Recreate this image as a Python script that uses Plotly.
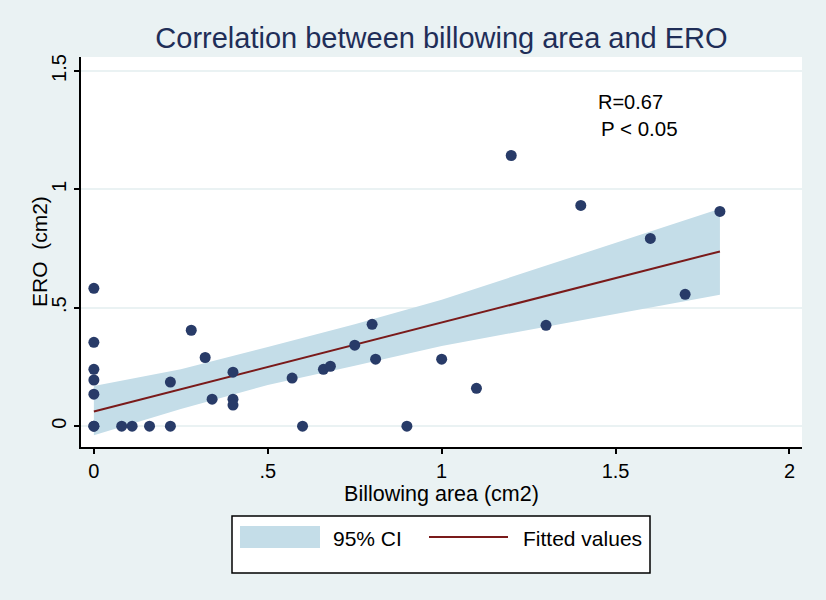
import plotly.graph_objects as go

# ---- data ----
billow = [0, 0, 0, 0, 0, 0, 0, 0.08, 0.11, 0.16, 0.22, 0.22, 0.28, 0.32, 0.34,
          0.40, 0.40, 0.40, 0.57, 0.60, 0.66, 0.68, 0.75, 0.80, 0.81, 0.90,
          1.00, 1.10, 1.20, 1.30, 1.40, 1.60, 1.70, 1.80]
ero = [0.582, 0.354, 0.240, 0.195, 0.135, 0, 0, 0, 0, 0, 0, 0.186, 0.405, 0.290, 0.114,
       0.228, 0.114, 0.089, 0.203, 0, 0.240, 0.253, 0.342, 0.430, 0.283, 0,
       0.283, 0.160, 1.143, 0.426, 0.932, 0.793, 0.557, 0.907]

fit_x = [0, 0.25, 0.5, 0.75, 1.0, 1.25, 1.5, 1.8]
fit_y = [0.062, 0.156, 0.250, 0.344, 0.438, 0.532, 0.626, 0.738]
ci_upper = [0.170, 0.240, 0.334, 0.430, 0.534, 0.654, 0.774, 0.918]
ci_lower = [-0.038, 0.073, 0.174, 0.255, 0.339, 0.406, 0.473, 0.555]

x_ticks = [0, 0.5, 1, 1.5, 2]
x_ticklabels = ["0", ".5", "1", "1.5", "2"]
y_ticks = [0, 0.5, 1, 1.5]
y_ticklabels = ["0", ".5", "1", "1.5"]

BAND = "#C4DDE8"
LINE = "#7A1A1A"
DOT = "#283B68"
BG = "#EAF2F3"
FONT = "Liberation Sans, Arial, sans-serif"

fig = go.Figure()
fig.add_trace(go.Scatter(x=fit_x + fit_x[::-1], y=ci_upper + ci_lower[::-1],
                         fill="toself", fillcolor=BAND, line=dict(width=0),
                         mode="lines", name="95% CI", hoverinfo="skip"))
fig.add_trace(go.Scatter(x=fit_x, y=fit_y, mode="lines",
                         line=dict(color=LINE, width=2), name="Fitted values"))
fig.add_trace(go.Scatter(x=billow, y=ero, mode="markers",
                         marker=dict(color=DOT, size=11), name="ERO"))

# manual legend (paper coordinates), matching the Stata legend box
L, R, T, B = 81, 802, 57, 447
def px(x):
    return (x - L) / (R - L)
def py(y):
    return (B - y) / (B - T)

shapes = [
    dict(type="rect", xref="paper", yref="paper", x0=px(232), x1=px(650), y0=py(573), y1=py(516),
         line=dict(color="black", width=1.5), fillcolor="white", layer="above"),
    dict(type="rect", xref="paper", yref="paper", x0=px(240), x1=px(320), y0=py(548), y1=py(526),
         line=dict(width=0), fillcolor=BAND, layer="above"),
    dict(type="line", xref="paper", yref="paper", x0=px(429), x1=px(508), y0=py(537), y1=py(537),
         line=dict(color=LINE, width=2), layer="above"),
]
annotations = [
    dict(xref="paper", yref="paper", x=px(331), y=py(538), xanchor="left", yanchor="middle",
         text="95% CI", showarrow=False, font=dict(family=FONT, size=21, color="black")),
    dict(xref="paper", yref="paper", x=px(521), y=py(538), xanchor="left", yanchor="middle",
         text="Fitted values", showarrow=False, font=dict(family=FONT, size=21, color="black")),
    dict(x=1.4446, y=1.369, xref="x", yref="y", xanchor="left", yanchor="middle",
         text="R=0.67", showarrow=False, font=dict(family=FONT, size=20, color="black")),
    dict(x=1.4532, y=1.259, xref="x", yref="y", xanchor="left", yanchor="middle",
         text="P &lt; 0.05", showarrow=False, font=dict(family=FONT, size=20.5, color="black")),
    dict(xref="paper", yref="paper", x=px(39), y=0.5, xanchor="center", yanchor="middle",
         textangle=-90, text="ERO  (cm2)", showarrow=False,
         font=dict(family=FONT, size=21, color="black")),
]

fig.update_layout(
    width=826, height=600, autosize=False,
    paper_bgcolor=BG, plot_bgcolor="white",
    margin=dict(l=L, r=826 - R, t=T, b=600 - B),
    showlegend=False,
    font=dict(family=FONT, size=20, color="black"),
    title=dict(text="Correlation between billowing area and ERO", x=0.5345, xanchor="center",
               y=1 - 38 / 600, yanchor="middle",
               font=dict(family=FONT, size=29, color="#1F2E58")),
    shapes=shapes, annotations=annotations,
    xaxis=dict(range=[-0.037, 2.036], tickvals=x_ticks, ticktext=x_ticklabels,
               showgrid=False, zeroline=False, showline=True, linecolor="black", linewidth=1.5,
               ticks="outside", ticklen=5, tickwidth=1.5, tickcolor="black",
               tickfont=dict(size=20),
               title=dict(text="Billowing area (cm2)", font=dict(size=21.5), standoff=2)),
    yaxis=dict(range=[-0.088, 1.559], tickvals=y_ticks, ticktext=y_ticklabels, tickangle=-90,
               showgrid=True, gridcolor=BG, gridwidth=1.5, zeroline=False,
               showline=True, linecolor="black", linewidth=1.5,
               ticks="outside", ticklen=5, tickwidth=1.5, tickcolor="black",
               tickfont=dict(size=20)),
)

fig.write_html("out.html", config={"displayModeBar": False},
               post_script="document.body.style.margin='0';document.body.style.background='" + BG + "';")
